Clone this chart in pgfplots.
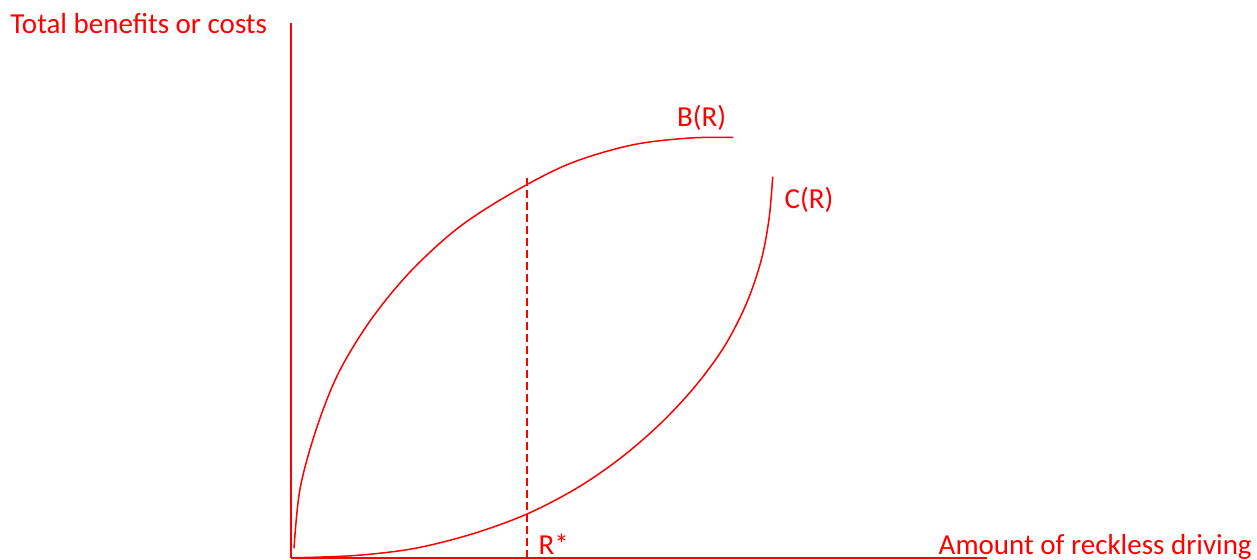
\documentclass[border=0pt]{standalone}
\usepackage{pgfplots}
\pgfplotsset{compat=1.18}
\usepackage{fontspec}
\setmainfont{Carlito}
\begin{document}
\begin{tikzpicture}
\useasboundingbox (0,0) rectangle (628.5pt,279.5pt);
\begin{axis}[
  at={(0,0)}, anchor=south west,
  scale only axis, width=628.5pt, height=279.5pt,
  xmin=0, xmax=1257, ymin=0, ymax=559,
  hide axis, clip=false,
]
% axes
\addplot[red, line width=1pt] coordinates {(291,1) (291,536.3)};
\addplot[red, line width=1pt] coordinates {(291,1) (986.7,1)};
% B(R)
\addplot[red, line width=0.75pt, smooth, tension=0.55] coordinates {
(294,10.7) (300,70) (316,129) (338,185) (370,238) (410,287) (458,331)
(512,366) (570,395.5) (632,414) (690,421) (733.3,421.5)};
% C(R)
\addplot[red, line width=0.75pt, smooth, tension=0.55] coordinates {
(295,1.3) (355,3.5) (414,10.5) (472,25) (527,45) (577,71) (620,100.5)
(660,135) (695,172.5) (724,212) (746,254.5) (761,298) (769,340) (772.7,382.3)};
% R*
\addplot[red, line width=0.6pt, dash pattern=on 4pt off 2pt] coordinates {(527,1) (527,381)};
\node[anchor=base west, inner sep=0pt, text=red, font=\fontsize{14.5}{17}\selectfont] at (axis cs:10,525.7) {Total benefits or costs};
\node[anchor=base west, inner sep=0pt, text=red, font=\fontsize{14.5}{17}\selectfont] at (axis cs:676.7,432.3) {B(R)};
\node[anchor=base west, inner sep=0pt, text=red, font=\fontsize{14.5}{17}\selectfont] at (axis cs:784.3,350.7) {C(R)};
\node[anchor=base west, inner sep=0pt, text=red, font=\fontsize{14.5}{17}\selectfont] at (axis cs:538.3,5) {R*};
\node[anchor=base west, inner sep=0pt, text=red, font=\fontsize{14.5}{17}\selectfont] at (axis cs:938.3,4.5) {Amount of reckless driving};
\end{axis}
\end{tikzpicture}
\end{document}
